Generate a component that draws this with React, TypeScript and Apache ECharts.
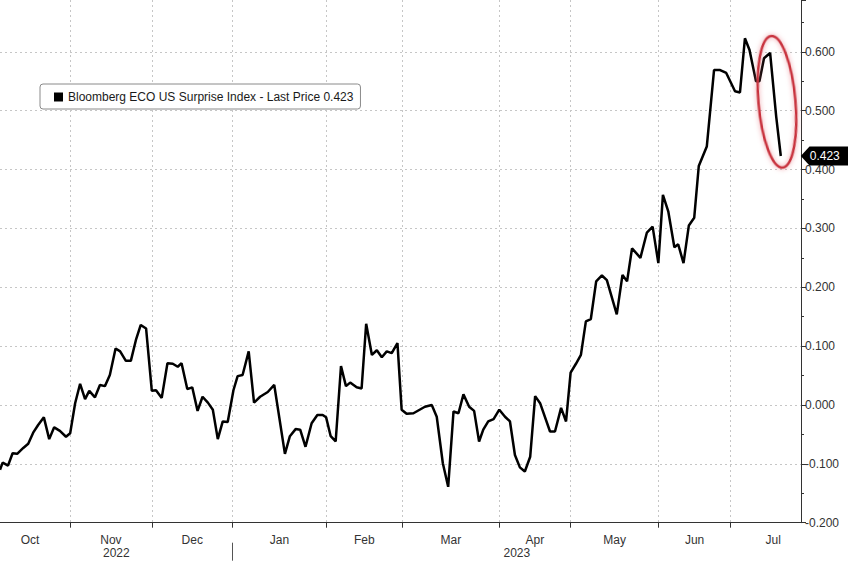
import React, { useEffect, useRef } from 'react';
import * as echarts from 'echarts';

const obs = [
  0, 0.7, 1.3, 2.1, 3.3, 4.5, 6.1, 7.4, 8.7, 10.0,
  11.5, 12.9, 14.2, 15.7, 17.3, 18.4, 19.7, 21.0, 22.3, 23.4,
  24.9, 26.2, 27.5, 28.8, 30.3, 31.5, 33.0, 34.3, 35.7, 36.9,
  38.3, 39.8, 40.9, 42.4, 43.9, 45.3, 46.6, 47.6, 49.1, 50.4,
  51.8, 53.1, 54.5, 55.8, 57.1, 58.4, 59.7, 61.2, 62.3, 63.6,
  65.2, 66.6, 68.2, 70.2, 71.9, 74.7, 76.0, 77.5, 78.7, 80.1,
  81.7, 83.2, 84.6, 85.5, 86.7, 88.0, 89.4, 90.7, 91.8, 93.5,
  94.8, 96.0, 97.5, 98.8, 100.1, 101.4, 102.7, 104.2, 105.3, 106.6,
  108.4, 111.4, 113.2, 114.5, 116.1, 117.5, 118.9, 120.2, 121.5, 123.0,
  124.3, 125.6, 126.7, 128.0, 129.4, 130.9, 132.4, 133.7, 135.0, 136.3,
  137.6, 139.0, 140.3, 141.6, 144.2, 145.5, 147.1, 148.4, 149.6, 151.0,
  152.3, 153.6, 154.9, 156.3, 157.8, 159.1, 161.7, 163.2, 164.4, 165.7,
  167.9, 169.6, 171.1, 172.6, 173.8, 175.2, 176.8, 177.8, 179.2, 180.6,
  182.0, 183.2, 185.3, 187.2, 188.8, 190.4, 192.7, 194.0, 195.3, 196.5,
  198.2, 199.1, 200.3, 201.9, 203.5, 204.7,
];

const values = [
  -0.110, -0.098, -0.100, -0.103, -0.082, -0.083, -0.073, -0.066, -0.047, -0.034,
  -0.021, -0.058, -0.038, -0.044, -0.054, -0.048, 0.003, 0.036, 0.010, 0.024,
  0.013, 0.034, 0.032, 0.051, 0.096, 0.091, 0.075, 0.075, 0.112, 0.136,
  0.130, 0.024, 0.025, 0.012, 0.071, 0.070, 0.065, 0.071, 0.027, 0.030,
  -0.010, 0.014, 0.004, -0.008, -0.058, -0.028, -0.029, 0.025, 0.049, 0.051,
  0.091, 0.004, 0.014, 0.022, 0.034, -0.083, -0.053, -0.041, -0.042, -0.071,
  -0.031, -0.017, -0.017, -0.021, -0.053, -0.062, 0.066, 0.032, 0.038, 0.030,
  0.028, 0.138, 0.085, 0.093, 0.081, 0.091, 0.088, 0.105, -0.008, -0.015,
  -0.014, -0.003, 0.000, -0.020, -0.099, -0.139, -0.011, -0.014, 0.018, -0.003,
  -0.010, -0.062, -0.042, -0.028, -0.024, -0.008, -0.020, -0.028, -0.085, -0.106,
  -0.113, -0.088, 0.015, 0.003, -0.045, -0.045, -0.005, -0.028, 0.055, 0.070,
  0.085, 0.142, 0.146, 0.210, 0.220, 0.212, 0.154, 0.221, 0.210, 0.266,
  0.250, 0.293, 0.303, 0.241, 0.357, 0.329, 0.268, 0.273, 0.241, 0.305,
  0.318, 0.406, 0.439, 0.569, 0.569, 0.564, 0.533, 0.531, 0.623, 0.603,
  0.550, 0.550, 0.589, 0.598, 0.490, 0.423,
];

const monthNames = ['Oct', 'Nov', 'Dec', 'Jan', 'Feb', 'Mar', 'Apr', 'May', 'Jun', 'Jul'];
// observation position where each month begins (last entry = start of Aug)
const monthStarts = [-2.6, 18.35, 39.8, 61.0, 85.5, 105.5, 130.9, 149.6, 172.7, 191.5, 213.9];

const yearNames = ['2022', '2023'];
const yearBounds = [0, 61.0, 210];

const seriesName = 'Bloomberg ECO US Surprise Index';

const X_MIN = 0;
const X_MAX = 210;
const Y_MIN = -0.2;
const Y_MAX = 0.688;

export default function App() {
  const ref = useRef<HTMLDivElement>(null);

  useEffect(() => {
    if (!ref.current) return;
    const chart = echarts.init(ref.current, null, { renderer: 'svg' });
    const font = '"Liberation Sans", Arial, sans-serif';

    const monthMid = monthNames.map((_, i) => (monthStarts[i] + monthStarts[i + 1]) / 2);
    const yearMid = yearNames.map((_, i) => (yearBounds[i] + yearBounds[i + 1]) / 2);
    const tickStarts = monthStarts.filter((v) => v > X_MIN && v < X_MAX);
    const last = values[values.length - 1];
    const lastObs = obs[obs.length - 1];
    const data = obs.map((o, i) => [o, values[i]]);

    const gridStyle = { color: '#c6c6c6', width: 1, type: [2, 3] as any };

    chart.setOption({
      animation: false,
      backgroundColor: '#ffffff',
      grid: { left: 0, right: 47, top: 0, bottom: 38.3, containLabel: false },
      legend: {
        left: 40,
        top: 84,
        backgroundColor: '#ffffff',
        borderColor: '#8a8a8a',
        borderWidth: 1,
        borderRadius: 3,
        padding: [7, 7, 6, 14],
        itemWidth: 9,
        itemHeight: 9,
        icon: 'rect',
        selectedMode: false,
        textStyle: { fontSize: 12, color: '#1a1a1a', fontFamily: font },
        formatter: (name: string) => `${name} - Last Price ${last.toFixed(3)}`,
        data: [seriesName],
      },
      xAxis: [
        {
          type: 'value',
          min: X_MIN,
          max: X_MAX,
          position: 'bottom',
          axisLine: { show: true, onZero: false, lineStyle: { color: '#333', width: 1 } },
          axisTick: { show: true, customValues: tickStarts, length: 5, lineStyle: { color: '#333' } },
          axisLabel: {
            show: true,
            customValues: monthMid.filter((v) => v > X_MIN && v < X_MAX),
            margin: 11,
            color: '#333',
            fontSize: 12,
            fontFamily: font,
            formatter: (v: number) => {
              const i = monthMid.findIndex((m) => Math.abs(m - v) < 1e-6);
              return i >= 0 ? monthNames[i] : '';
            },
          },
          splitLine: { show: true, lineStyle: gridStyle },
        },
        {
          type: 'value',
          min: X_MIN,
          max: X_MAX,
          position: 'bottom',
          offset: 20,
          axisLine: { show: false, onZero: false },
          axisTick: {
            show: true,
            customValues: [yearBounds[1]],
            length: 18,
            lineStyle: { color: '#555' },
          },
          axisLabel: {
            show: true,
            customValues: yearMid,
            margin: 4,
            color: '#333',
            fontSize: 12,
            fontFamily: font,
            formatter: (v: number) => {
              const i = yearMid.findIndex((m) => Math.abs(m - v) < 1e-6);
              return i >= 0 ? yearNames[i] : '';
            },
          },
          splitLine: { show: false },
        },
      ],
      yAxis: {
        type: 'value',
        position: 'right',
        min: Y_MIN,
        max: Y_MAX,
        interval: 0.1,
        axisLine: { show: true, onZero: false, lineStyle: { color: '#333', width: 1 } },
        axisTick: { show: true, length: 5, lineStyle: { color: '#333' } },
        minorTick: { show: true, splitNumber: 2, length: 3, lineStyle: { color: '#333' } },
        axisLabel: {
          showMaxLabel: false,
          margin: 4,
          color: '#333',
          fontSize: 12,
          fontFamily: font,
          formatter: (v: number) => v.toFixed(3),
        },
        splitLine: { show: true, showMaxLine: false, lineStyle: gridStyle },
      },
      series: [
        {
          name: seriesName,
          type: 'line',
          data,
          showSymbol: false,
          symbol: 'none',
          itemStyle: { color: '#000' },
          lineStyle: { color: '#000', width: 2.5 },
          z: 5,
          markPoint: {
            symbol: 'path://M0,10 L9,0 L60,0 L60,20 L9,20 Z',
            symbolSize: [58, 19],
            symbolOffset: [49, 0],
            symbolKeepAspect: false,
            itemStyle: { color: '#000' },
            label: {
              show: true,
              color: '#fff',
              fontSize: 12,
              fontFamily: font,
              offset: [-5, 0],
              formatter: () => last.toFixed(3),
            },
            data: [{ coord: [lastObs, last] }],
          },
        },
      ],
    });

    // red annotation ellipse around the latest drop
    const c = chart.convertToPixel({ xAxisIndex: 0, yAxisIndex: 0 }, [203.7, 0.515]) as number[];
    chart.setOption({
      graphic: [
        {
          type: 'ellipse',
          x: c[0],
          y: c[1],
          rotation: 0.086,
          shape: { cx: 0, cy: 0, rx: 18.5, ry: 66 },
          style: {
            fill: 'none',
            stroke: '#c8323c',
            lineWidth: 2.5,
            shadowBlur: 5,
            shadowColor: 'rgba(230, 110, 120, 0.7)',
          },
          z: 10,
        },
      ],
    });

    return () => chart.dispose();
  }, []);

  return (
    <div
      ref={ref}
      style={{ position: 'absolute', left: 0, top: 0, width: 848, height: 561 }}
    />
  );
}
